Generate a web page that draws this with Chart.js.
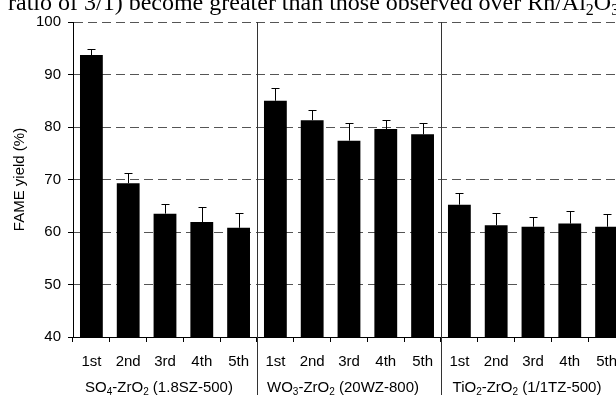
<!DOCTYPE html>
<html>
<head>
<meta charset="utf-8">
<script src="https://cdn.jsdelivr.net/npm/chart.js@4.4.1/dist/chart.umd.min.js"></script>
<style>
  html, body { margin: 0; padding: 0; background: #fff; overflow: hidden; width: 616px; height: 395px; }
  #wrap { position: relative; width: 616px; height: 395px; overflow: hidden; }
  canvas { position: absolute; left: 0; top: 0; }
  #caption {
    position: absolute; left: 8px; top: -10px;
    font-family: "Liberation Serif", "Times New Roman", serif;
    font-size: 24px; line-height: 24px; white-space: nowrap; color: #000;
  }
  #caption sub { font-size: 16px; vertical-align: -5px; line-height: 0; }
</style>
</head>
<body>
<div id="wrap">
  <canvas id="c" width="628" height="395"></canvas>
  <div id="caption">ratio of 3/1) become greater than those observed over Rh/Al<sub>2</sub>O<sub>3</sub></div>
</div>
<script>
// Reuse runs for each catalyst
const runs = ['1st', '2nd', '3rd', '4th', '5th'];

// Catalyst names as [text, isSubscript] pieces
const catalysts = [
  [['SO', 0], ['4', 1], ['-ZrO', 0], ['2', 1], [' (1.8SZ-500)', 0]],
  [['WO', 0], ['3', 1], ['-ZrO', 0], ['2', 1], [' (20WZ-800)', 0]],
  [['TiO', 0], ['2', 1], ['-ZrO', 0], ['2', 1], [' (1/1TZ-500)', 0]]
];

// FAME yield (%) per run
const yieldSZ = [93.7, 69.3, 63.5, 61.9, 60.8];
const yieldWZ = [85.0, 81.3, 77.4, 79.6, 78.6];
const yieldTZ = [65.2, 61.3, 61.0, 61.6, 61.0];

// Upper error (%)
const errSZ = [1.2, 1.9, 1.9, 2.8, 2.9];
const errWZ = [2.5, 2.0, 3.4, 1.7, 2.1];
const errTZ = [2.3, 2.4, 1.9, 2.4, 2.5];

const yTicks = [40, 50, 60, 70, 80, 90, 100];

const labels = [...runs, ...runs, ...runs];
const values = [...yieldSZ, ...yieldWZ, ...yieldTZ];
const errors = [...errSZ, ...errWZ, ...errTZ];

const FONT = '"Liberation Sans", Arial, sans-serif';

function drawRich(ctx, parts, cx, baseline) {
  const main = '15px ' + FONT, small = '10px ' + FONT;
  let w = 0;
  parts.forEach(([t, s]) => { ctx.font = s ? small : main; w += ctx.measureText(t).width; });
  let x = cx - w / 2;
  ctx.textAlign = 'left';
  ctx.textBaseline = 'alphabetic';
  ctx.fillStyle = '#000';
  parts.forEach(([t, s]) => {
    ctx.font = s ? small : main;
    ctx.fillText(t, x, baseline + (s ? 3 : 0));
    x += ctx.measureText(t).width;
  });
}

const errorBars = {
  id: 'errorBars',
  afterDatasetsDraw(chart) {
    const { ctx, scales: { y } } = chart;
    const meta = chart.getDatasetMeta(0);
    ctx.save();
    ctx.strokeStyle = '#000';
    ctx.lineWidth = 1;
    meta.data.forEach((bar, i) => {
      const cx = Math.round(bar.x) + 0.5;
      const y0 = y.getPixelForValue(values[i]);
      const y1 = Math.round(y.getPixelForValue(values[i] + errors[i])) + 0.5;
      ctx.beginPath();
      ctx.moveTo(cx, y0);
      ctx.lineTo(cx, y1);
      ctx.moveTo(cx - 4, y1);
      ctx.lineTo(cx + 4, y1);
      ctx.stroke();
    });
    ctx.restore();
  }
};

const groupDecor = {
  id: 'groupDecor',
  afterDraw(chart) {
    const { ctx, chartArea, scales: { x } } = chart;
    const step = x.getPixelForValue(1) - x.getPixelForValue(0);
    ctx.save();
    ctx.strokeStyle = '#333';
    ctx.lineWidth = 1;
    for (let g = 1; g < catalysts.length; g++) {
      const px = Math.round(x.getPixelForValue(g * runs.length) - step / 2) + 0.5;
      ctx.beginPath();
      ctx.moveTo(px, chartArea.top);
      ctx.lineTo(px, chart.height);
      ctx.stroke();
    }
    catalysts.forEach((parts, g) => {
      const first = x.getPixelForValue(g * runs.length) - step / 2;
      const last = x.getPixelForValue((g + 1) * runs.length - 1) + step / 2;
      drawRich(ctx, parts, (first + last) / 2 - 6, 392);
    });
    ctx.restore();
  }
};

new Chart(document.getElementById('c'), {
  type: 'bar',
  data: {
    labels: labels,
    datasets: [{
      data: values,
      backgroundColor: '#000',
      borderWidth: 0,
      barPercentage: 0.62,
      categoryPercentage: 1.0
    }]
  },
  options: {
    responsive: false,
    animation: false,
    devicePixelRatio: 1,
    layout: { padding: { top: 22, left: 0, right: 0, bottom: 0 } },
    plugins: { legend: { display: false }, tooltip: { enabled: false } },
    scales: {
      x: {
        offset: true,
        grid: {
          offset: true, drawOnChartArea: false, drawTicks: true,
          tickLength: 5, tickColor: '#000', color: '#000'
        },
        border: { color: '#000', width: 1 },
        ticks: { color: '#000', font: { family: FONT, size: 15 }, padding: 11, maxRotation: 0, autoSkip: false },
        afterFit(scale) { scale.height = 58; }
      },
      y: {
        min: yTicks[0],
        max: yTicks[yTicks.length - 1],
        afterBuildTicks(scale) { scale.ticks = yTicks.map(v => ({ value: v })); },
        grid: {
          color: (c) => (c.tick && c.tick.value === yTicks[0]) ? 'rgba(0,0,0,0)' : '#555',
          lineWidth: 1, drawTicks: true, tickLength: 5, tickColor: '#000', tickBorderDash: []
        },
        border: { color: '#000', width: 1, dash: [9, 5] },
        ticks: { color: '#000', font: { family: FONT, size: 15 }, padding: 7 },
        title: {
          display: true, text: 'FAME yield (%)', color: '#000',
          font: { family: FONT, size: 15 }, padding: { top: 11, bottom: 0 }
        },
        afterFit(scale) { scale.width = 73; }
      }
    }
  },
  plugins: [errorBars, groupDecor]
});
</script>
</body>
</html>
